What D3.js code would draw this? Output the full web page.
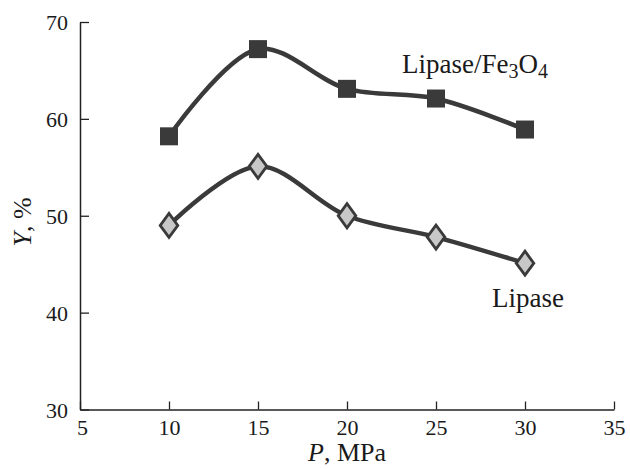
<!DOCTYPE html>
<html>
<head>
<meta charset="utf-8">
<script src="https://cdn.jsdelivr.net/npm/d3@7"></script>
<style>
    body { margin: 0; background: #fff; }
</style>
</head>
<body>
<div id="chart"></div>
<script>
(function(d3) {
    'use strict'

    var width = 630;
    var height = 469;
    var serif = 'Liberation Serif';

    // data
    var pressure = [10, 15, 20, 25, 30];
    var yieldFe3O4 = [58.2, 67.2, 63.1, 62.1, 58.9];
    var yieldLipase = [49.0, 55.1, 50.0, 47.8, 45.1];
    var xTicks = [5, 10, 15, 20, 25, 30, 35];
    var yTicks = [30, 40, 50, 60, 70];

    var x = d3.scaleLinear().domain([5, 35]).range([80, 614]);
    var y = d3.scaleLinear().domain([30, 70]).range([409.5, 22]);

    var svg = d3.select('#chart')
        .append('svg')
        .attr('width', width)
        .attr('height', height)
        .attr('font-family', serif);

    // axes, ticks pointing inward
    var xAxis = svg.append('g')
        .attr('transform', 'translate(0,' + y(30) + ')')
        .call(d3.axisBottom(x).tickValues(xTicks).tickSizeInner(-8).tickSizeOuter(0).tickPadding(10));
    var yAxis = svg.append('g')
        .attr('transform', 'translate(' + x(5) + ',0)')
        .call(d3.axisLeft(y).tickValues(yTicks).tickSizeInner(-9).tickSizeOuter(0).tickPadding(12));

    [xAxis, yAxis].forEach(function(a) {
        a.attr('font-family', serif).attr('font-size', 22);
        a.select('.domain').attr('stroke', '#222').attr('stroke-width', 1.5);
        a.selectAll('.tick line').attr('stroke', '#222').attr('stroke-width', 1.3);
        a.selectAll('.tick text')
            .attr('font-family', serif)
            .attr('font-size', 22)
            .attr('fill', '#1a1a1a');
    });
    xAxis.selectAll('.tick text').attr('dy', '0.72em');
    yAxis.selectAll('.tick text').attr('dy', '0.35em');
    xAxis.selectAll('.tick text').filter(function(d) { return d === 5; }).attr('x', 2);

    var line = d3.line()
        .x(function(d) { return x(d[0]); })
        .y(function(d) { return y(d[1]); })
        .curve(d3.curveCatmullRom.alpha(0.5));

    var dark = '#3a3a3a';

    function series(vals) {
        return pressure.map(function(p, i) { return [p, vals[i]]; });
    }

    svg.append('path')
        .datum(series(yieldFe3O4))
        .attr('d', line)
        .attr('fill', 'none')
        .attr('stroke', dark)
        .attr('stroke-width', 4.5);

    svg.append('path')
        .datum(series(yieldLipase))
        .attr('d', line)
        .attr('fill', 'none')
        .attr('stroke', dark)
        .attr('stroke-width', 4.5);

    svg.selectAll('rect.sq')
        .data(series(yieldFe3O4))
        .enter()
        .append('rect')
        .attr('class', 'sq')
        .attr('x', function(d) { return x(d[0]) - 9; })
        .attr('y', function(d) { return y(d[1]) - 9; })
        .attr('width', 18)
        .attr('height', 18)
        .attr('fill', dark);

    var diamond = d3.symbol().type(d3.symbolSquare).size(230);
    svg.selectAll('path.dm')
        .data(series(yieldLipase))
        .enter()
        .append('path')
        .attr('class', 'dm')
        .attr('d', diamond)
        .attr('transform', function(d) {
            return 'translate(' + x(d[0]) + ',' + y(d[1]) + ') scale(0.82,1.12) rotate(45)';
        })
        .attr('fill', '#c8c8c8')
        .attr('stroke', dark)
        .attr('stroke-width', 3);

    // series labels
    var lab1 = svg.append('text')
        .attr('x', 402)
        .attr('y', 73)
        .attr('fill', '#1a1a1a')
        .attr('font-family', serif)
        .attr('font-size', 27);
    lab1.append('tspan').text('Lipase/Fe');
    lab1.append('tspan').attr('dy', 5).attr('font-size', 20).text('3');
    lab1.append('tspan').attr('dy', -5).text('O');
    lab1.append('tspan').attr('dy', 5).attr('font-size', 20).text('4');

    svg.append('text')
        .attr('x', 492)
        .attr('y', 307)
        .attr('fill', '#1a1a1a')
        .attr('font-family', serif)
        .attr('font-size', 27)
        .text('Lipase');

    // axis titles
    var xt = svg.append('text')
        .attr('x', x(20))
        .attr('y', 461)
        .attr('text-anchor', 'middle')
        .attr('fill', '#1a1a1a')
        .attr('font-family', serif)
        .attr('font-size', 26);
    xt.append('tspan').attr('font-style', 'italic').text('P');
    xt.append('tspan').text(', MPa');

    var yt = svg.append('text')
        .attr('transform', 'translate(31,222) rotate(-90)')
        .attr('text-anchor', 'middle')
        .attr('fill', '#1a1a1a')
        .attr('font-family', serif)
        .attr('font-size', 26);
    yt.append('tspan').attr('font-style', 'italic').text('Y');
    yt.append('tspan').text(', %');

})(window.d3);
</script>
</body>
</html>
